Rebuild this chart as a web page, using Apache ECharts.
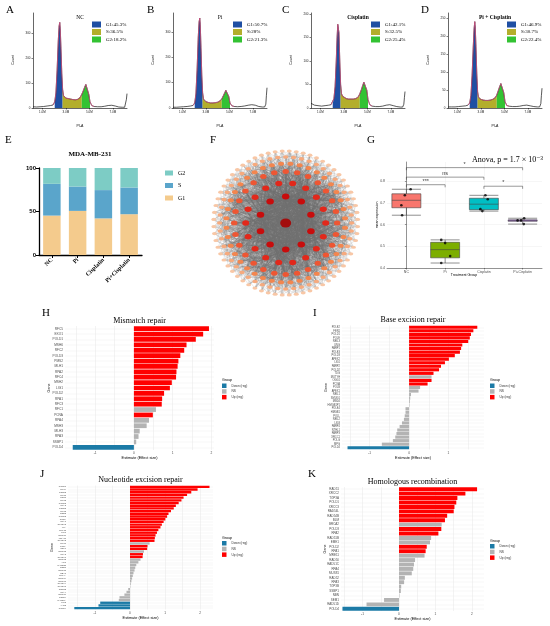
<!DOCTYPE html>
<html lang="en">
<head>
    <meta charset="UTF-8">
    <title>Cell cycle and DNA repair</title>
    <style>
        * { margin: 0; padding: 0; }
        body { background: #fff; }
        #chart { width: 550px; height: 626px; }
    </style>
    <script src="https://cdn.jsdelivr.net/npm/echarts@6/dist/echarts.min.js"></script>
</head>
<body>
<div id="chart"></div>
<script>
    // ---- A-D flow cytometry (PI-A in millions, counts) ----
    const flowX = [0.2, 0.5, 0.8, 1.1, 1.4, 1.7, 1.9,
        2.05, 2.15, 2.25, 2.35, 2.42, 2.48, 2.52, 2.58, 2.65, 2.72,
        2.8, 2.9, 3.0, 3.2, 3.4, 3.6, 3.8, 4.0, 4.2,
        4.35, 4.5, 4.6, 4.7, 4.78, 4.85, 4.95, 5.05,
        5.2, 5.4, 5.7, 6.0, 6.3, 6.6, 6.9, 7.2, 7.5, 7.8,
        8.0, 8.1, 8.15, 8.2]
    const ncCounts = [5, 4, 5, 6, 8, 10, 12,
        25, 60, 150, 270, 330, 345, 320, 240, 140, 75,
        50, 42, 40, 38, 36, 34, 33, 35, 42,
        55, 72, 85, 95, 98, 88, 55, 25,
        10, 6, 5, 5, 7, 10, 11, 8, 4, 3,
        3, 10, 35, 58]
    const piCounts = [3, 3, 4, 5, 6, 8, 10,
        20, 55, 150, 280, 340, 355, 330, 240, 130, 60,
        35, 28, 25, 22, 20, 20, 21, 23, 28,
        36, 50, 60, 70, 75, 68, 45, 20,
        9, 6, 5, 6, 8, 11, 13, 11, 6, 4,
        4, 15, 50, 80]
    const cisCounts = [10, 6, 5, 4, 5, 6, 7,
        10, 20, 45, 100, 150, 178, 182, 160, 100, 50,
        30, 25, 22, 20, 19, 19, 19, 20, 23,
        30, 40, 48, 55, 58, 54, 38, 18,
        7, 4, 3, 3, 4, 6, 7, 5, 3, 2,
        2, 8, 22, 35]
    const comboCounts = [3, 3, 3, 4, 5, 6, 8,
        14, 35, 90, 170, 220, 240, 225, 170, 95, 45,
        30, 26, 24, 22, 21, 21, 22, 24, 28,
        36, 50, 60, 68, 72, 65, 42, 18,
        7, 5, 4, 4, 5, 7, 8, 6, 4, 3,
        3, 12, 35, 55]
    const phaseNames = ['G1', 'S', 'G2']
    const phaseRanges = [[2.05, 2.72], [2.72, 4.35], [4.35, 5.05]]
    const ncPct = [45.3, 36.5, 18.2]
    const piPct = [50.7, 28, 21.3]
    const cisPct = [42.1, 32.5, 25.4]
    const comboPct = [46.9, 30.7, 22.4]
    const flowTicks = [1, 3, 5, 7]

    // ---- E stacked bars ----
    const treatGroups = ['NC', 'Pi', 'Cisplatin', 'Pi+Cisplatin']
    const g1Share = [45.3, 50.7, 42.1, 46.9]
    const sShare = [36.5, 28, 32.5, 30.7]
    const g2Share = [18.2, 21.3, 25.4, 22.4]

    // ---- F network (nodes per ring, hub in the middle) ----
    const ringSizes = [1, 10, 18, 28, 40, 52, 64]

    // ---- G mean expression ----
    const ncExpr = [0.764, 0.736, 0.690, 0.644]
    const piExpr = [0.530, 0.515, 0.455, 0.423]
    const cisExpr = [0.736, 0.718, 0.672, 0.663]
    const comboExpr = [0.630, 0.620, 0.620, 0.603]
    const ncJitter = [0.11, -0.04, -0.13, -0.11]
    const piJitter = [-0.10, 0.0, 0.13, -0.10]
    const cisJitter = [0.04, 0.10, -0.09, -0.04]
    const comboJitter = [0.04, -0.04, -0.13, 0.03]
    const exprTicks = [0.4, 0.5, 0.6, 0.7, 0.8]
    const sigPairs = [
        ['NC', 'Pi', '***', 0.785],
        ['NC', 'Cisplatin', 'ns', 0.820],
        ['NC', 'Pi+Cisplatin', '*', 0.864],
        ['Cisplatin', 'Pi+Cisplatin', '*', 0.778]
    ]

    // ---- H-K effect sizes (U = up, N = NS, D = down) ----
    const hGenes = ['RFC5', 'EXO1', 'POLD1', 'MSH6', 'RFC2', 'POLD3', 'PMS2', 'MLH1', 'RPA2', 'RFC4', 'MSH2', 'LIG1',
        'POLD2', 'RPA1', 'RFC3', 'RFC1', 'PCNA', 'RPA4', 'MSH3', 'MLH3', 'RPA3', 'SSBP1', 'POLD4']
    const hEst = [1.94, 1.79, 1.60, 1.36, 1.30, 1.20, 1.15, 1.13, 1.10, 1.09, 0.98, 0.93,
        0.78, 0.73, 0.72, 0.57, 0.49, 0.39, 0.33, 0.15, 0.12, 0.06, -1.58]
    const hGroup = 'UUUUUUUUUUUUUUUNUNNNNND'

    const iGenes = ['POLE2', 'FEN1', 'POLD1', 'POLE', 'NEIL3', 'UNG', 'PARP1', 'POLE3', 'POLD3', 'APEX2',
        'LIG1', 'PARP2', 'POLD2', 'TDG', 'MUTYH', 'OGG1', 'PCNA', 'POLB', 'APEX1', 'NEIL1',
        'SMUG1', 'MBD4', 'HMGB1P1', 'POLE4', 'HMGB1', 'POLL', 'NEIL2', 'LIG3', 'PARP4', 'NTHL1',
        'PARP3', 'XRCC1', 'POLG', 'MPG', 'POLD4']
    const iEst = [1.73, 1.63, 1.57, 1.54, 1.50, 1.35, 1.32, 1.29, 1.16, 1.01,
        0.91, 0.81, 0.76, 0.62, 0.57, 0.57, 0.47, 0.28, 0.24, 0.05,
        0.03, 0.02, 0.01, -0.09, -0.09, -0.11, -0.13, -0.18, -0.24, -0.30,
        -0.32, -0.35, -0.41, -0.69, -1.56]
    const iGroup = 'UUUUUUUUUUUUUUNUUNNNNNNNNNNNNNNNNND'

    const jGenes = ['POLD1', 'RFC4', 'POLE2', 'RFC5', 'POLE', 'RFC2', 'POLD3', 'RPA2', 'POLE3', 'RFC3',
        'DDB2', 'POLD2', 'CCNH', 'RPA1', 'GTF2H3', 'XPA', 'CUL4B', 'LIG1', 'ERCC8', 'MNAT1',
        'GTF2H2', 'RFC1', 'PCNA', 'CDK7', 'ERCC3', 'RPA3', 'GTF2H1', 'ERCC2', 'XPC', 'RAD23B',
        'DDB1', 'ERCC5', 'RBX1', 'CUL4A', 'ERCC4', 'ERCC1', 'GTF2H4', 'GTF2H5', 'CETN2', 'RPA4',
        'ERCC6', 'POLE4', 'RAD23A', 'LIG3', 'XAB2', 'POLD4']
    const jEst = [2.27, 1.93, 1.75, 1.63, 1.53, 1.47, 1.39, 1.31, 1.25, 1.17,
        1.10, 1.06, 1.01, 0.96, 0.91, 0.87, 0.81, 0.77, 0.73, 0.71,
        0.70, 0.56, 0.50, 0.49, 0.40, 0.37, 0.36, 0.30, 0.24, 0.18,
        0.15, 0.13, 0.10, 0.08, 0.06, 0.04, 0.02, 0.01, -0.05, -0.10,
        -0.16, -0.30, -0.32, -0.85, -0.90, -1.59]
    const jGroup = 'UUUUUUUUUUUUUUUUUUUUUNUUNUUNNNNNNNNNNNNNNNNDDD'

    const kGenes = ['RAD51', 'XRCC2', 'TOP3A', 'POLD1', 'XRCC3', 'RAD54L', 'RAD54B', 'BLM', 'BRCA2', 'POLD3',
        'RPA2', 'RAD51B', 'EME1', 'POLD2', 'RPA1', 'MRE11', 'RAD50', 'RAD51C', 'RPA4', 'MUS81',
        'RAD52', 'RPA3', 'TOP3B', 'SSBP1', 'NBN', 'SEM1', 'RAD51D', 'POLD4']
    const kEst = [2.14, 1.82, 1.60, 1.57, 1.52, 1.50, 1.32, 1.26, 1.17, 1.16,
        1.08, 0.88, 0.85, 0.76, 0.73, 0.70, 0.44, 0.41, 0.39, 0.35,
        0.16, 0.14, 0.06, 0.05, 0.01, -0.41, -0.89, -1.55]
    const kGroup = 'UUUUUUUUNUUNNUUNNNNNNNNNNNND'

    const effectTicks = [-1.5, -1, -0.5, 0, 0.5, 1, 1.5, 2]
    const effectLabels = [-1, 0, 1, 2]
    const groupCodes = ['D', 'N', 'U']
    const groupLabels = ['Down (reg)', 'NS', 'Up (reg)']

    // ---------------------------------------------------------------
    const SERIF = '"Liberation Serif", "DejaVu Serif", serif'
    const SANS = '"Liberation Sans", "DejaVu Sans", sans-serif'
    const phaseColors = ['#1f4fa3', '#b3ae2b', '#33c233']
    const shareColors = ['#f4cb8d', '#5aa5cb', '#7dccc5']
    const groupColors = ['#1b7aa6', '#b3b3b3', '#ff0000']
    const boxColors = ['#f8766d', '#7cae00', '#00bfc4', '#c77cff']

    let option = {
        animation: false,
        backgroundColor: '#fff',
        textStyle: {fontFamily: SANS},
        grid: [], xAxis: [], yAxis: [], series: [], legend: [], graphic: [],
        polar: [], angleAxis: [], radiusAxis: []
    }

    function add(list, item) {
        list.push(item)
        return list.length - 1
    }

    function text(x, y, s, size, o) {
        o = o || {}
        option.graphic.push({
            type: 'text', x: x, y: y, rotation: o.rot || 0, silent: true, z: 100,
            style: {
                text: s, fill: o.color || '#000',
                font: (o.weight || 'normal') + ' ' + size + 'px ' + (o.family || SERIF),
                align: o.align || 'center', textAlign: o.align || 'center',
                verticalAlign: 'middle', textVerticalAlign: 'middle'
            }
        })
    }

    // panel letters
    ;[['A', 6, 10], ['B', 147, 10], ['C', 282, 10], ['D', 421, 10], ['E', 5, 140], ['F', 210, 140],
        ['G', 367, 140], ['H', 42, 313], ['I', 313, 313], ['J', 40, 474], ['K', 308, 474]]
        .forEach(l => text(l[1], l[2], l[0], 11, {align: 'left'}))

    // ---- A-D ----
    function flowPanel(p) {
        let gi = add(option.grid, {left: p.left, top: 13, width: 94, height: 95})
        let xi = add(option.xAxis, {
            gridIndex: gi, type: 'value', min: 0.2, max: 8.2,
            axisLine: {show: true, onZero: false, lineStyle: {color: '#000', width: 0.6}},
            axisTick: {show: true, length: 1.5, customValues: flowTicks, lineStyle: {width: 0.5}},
            axisLabel: {customValues: flowTicks, fontSize: 3, margin: 2.5, color: '#222',
                formatter: v => v.toFixed(1) + 'M'},
            splitLine: {show: false}
        })
        let yi = add(option.yAxis, {
            gridIndex: gi, type: 'value', min: 0, max: p.ymax,
            axisLine: {show: true, lineStyle: {color: '#000', width: 0.6}},
            axisTick: {show: true, length: 1.5, customValues: p.ticks, lineStyle: {width: 0.5}},
            axisLabel: {customValues: p.ticks, fontSize: 3, margin: 2.5, color: '#222'},
            splitLine: {show: false}
        })
        let pts = flowX.map((x, i) => [x, p.counts[i]])
        let names = phaseNames.map((ph, k) => ph + ':' + p.pct[k] + '%')
        phaseRanges.forEach((r, k) => {
            option.series.push({
                type: 'line', name: names[k], xAxisIndex: xi, yAxisIndex: yi,
                data: pts.filter(d => d[0] >= r[0] && d[0] <= r[1]),
                symbol: 'none', lineStyle: {width: 0}, itemStyle: {color: phaseColors[k]},
                areaStyle: {color: phaseColors[k], opacity: 1}, silent: true, z: 2
            })
        })
        option.series.push({
            type: 'line', xAxisIndex: xi, yAxisIndex: yi, data: pts, symbol: 'none',
            lineStyle: {color: '#111', width: 0.7}, silent: true, z: 3
        })
        option.series.push({
            type: 'line', xAxisIndex: xi, yAxisIndex: yi,
            data: pts.filter(d => d[0] >= 1.9 && d[0] <= 5.4), symbol: 'none',
            lineStyle: {color: '#e2568c', width: 0.7}, silent: true, z: 4
        })
        option.legend.push({
            data: names.map((n, k) => ({name: n, itemStyle: {color: phaseColors[k]}})),
            left: p.legLeft, top: 21.5, orient: 'vertical', icon: 'rect',
            itemWidth: 9, itemHeight: 6, itemGap: 1.5, padding: 0, selectedMode: false,
            backgroundColor: '#fff',
            textStyle: {fontSize: 5, fontFamily: SERIF, color: '#000'}
        })
        text(p.left + 47, 18, p.title, 5.5, {weight: p.bold ? 'bold' : 'normal'})
        text(p.left - 20, 60, 'Count', 3.5, {rot: Math.PI / 2, family: SANS})
        text(p.left + 47, 126, 'PI-A', 3.5, {family: SANS})
    }

    flowPanel({left: 33, counts: ncCounts, pct: ncPct, ymax: 383, ticks: [0, 100, 200, 300], legLeft: 92, title: 'NC'})
    flowPanel({left: 173, counts: piCounts, pct: piPct, ymax: 375, ticks: [0, 100, 200, 300], legLeft: 233, title: 'Pi'})
    flowPanel({left: 311, counts: cisCounts, pct: cisPct, ymax: 202, ticks: [0, 50, 100, 150, 200], legLeft: 371, title: 'Cisplatin', bold: true})
    flowPanel({left: 448, counts: comboCounts, pct: comboPct, ymax: 264, ticks: [0, 50, 100, 150, 200, 250], legLeft: 507, title: 'Pi + Cisplatin', bold: true})

    // ---- E ----
    let eg = add(option.grid, {left: 39, top: 168, width: 103, height: 87})
    let ex = add(option.xAxis, {
        gridIndex: eg, type: 'category', data: treatGroups,
        axisLine: {lineStyle: {color: '#000', width: 1.3}},
        axisTick: {show: true, length: 3, alignWithLabel: true, lineStyle: {width: 1}},
        axisLabel: {rotate: 45, fontSize: 6, fontWeight: 'bold', fontFamily: SERIF, color: '#000', margin: 4}
    })
    let ey = add(option.yAxis, {
        gridIndex: eg, type: 'value', min: 0, max: 100, interval: 50,
        axisLine: {show: true, lineStyle: {color: '#000', width: 1.3}},
        axisTick: {show: true, length: 3, lineStyle: {width: 1}},
        axisLabel: {fontSize: 6, fontWeight: 'bold', color: '#000', margin: 3},
        splitLine: {show: false}
    })
    ;[['G1', g1Share], ['S', sShare], ['G2', g2Share]].forEach((s, k) => {
        option.series.push({
            type: 'bar', name: s[0], stack: 'share', xAxisIndex: ex, yAxisIndex: ey, data: s[1],
            barWidth: 17.5, itemStyle: {color: shareColors[k]}, silent: true
        })
    })
    option.legend.push({
        data: ['G2', 'S', 'G1'], left: 165, top: 170, orient: 'vertical', icon: 'rect',
        itemWidth: 8, itemHeight: 5, itemGap: 6.5, padding: 0, selectedMode: false,
        textStyle: {fontSize: 6, fontFamily: SERIF, color: '#000'}
    })
    text(90, 154, 'MDA-MB-231', 7, {weight: 'bold'})

    // ---- F network ----
    const ringRadius = [0, 26.5, 40, 51.5, 59.5, 66, 72]
    const ringColors = ['#a30e0e', '#c80c0c', '#e2281b', '#ee5633', '#f3864f', '#f6aa7e', '#f8c7a6']
    const ringSymbols = [[11, 9], [7.5, 6], [7, 5.5], [6.5, 5], [6, 4], [5.5, 3.6], [5, 3.2]]
    const ellipse = 'path://M0 5A10 5 0 1 1 20 5A10 5 0 1 1 0 5Z'
    option.polar.push({center: [285.7, 223], radius: 72})
    option.angleAxis.push({type: 'value', min: 0, max: 360, startAngle: 90, show: false})
    option.radiusAxis.push({type: 'value', min: 0, max: 72, show: false})
    let nodes = [], links = [], ringStart = [], acc = 0
    ringSizes.forEach((n, r) => {
        ringStart.push(acc)
        acc += n
        for (let i = 0; i < n; i++) {
            nodes.push({
                name: 'r' + r + '_' + i,
                value: [ringRadius[r], (i + (r % 2 ? 0 : 0.5)) * 360 / n],
                symbolSize: ringSymbols[r], itemStyle: {color: ringColors[r]}
            })
        }
    })
    for (let r = 1; r < ringSizes.length; r++) {
        for (let i = 0; i < ringSizes[r]; i++) {
            let id = ringStart[r] + i
            links.push({source: 0, target: id})
            if (r === 1) {
                for (let q = 2; q <= 4; q++)
                    for (let j = 0; j < ringSizes[q]; j++) links.push({source: id, target: ringStart[q] + j})
                for (let j = i + 1; j < ringSizes[1]; j++) links.push({source: id, target: ringStart[1] + j})
            } else {
                for (let t = 0; t < 9; t++) {
                    let q = 1 + ((i + t) % (r - 1))
                    let j = (i * 7 + t * 5) % ringSizes[q]
                    links.push({source: id, target: ringStart[q] + j})
                }
            }
        }
    }
    option.series.push({
        type: 'graph', coordinateSystem: 'polar', polarIndex: 0, data: nodes, links: links,
        symbol: ellipse, label: {show: false}, silent: true, z: 1,
        lineStyle: {color: '#707070', width: 0.35, opacity: 0.45, curveness: 0}
    })

    // ---- G boxplot ----
    function quant(a, p) {
        let s = a.slice().sort((x, y) => x - y)
        let h = (s.length - 1) * p, lo = Math.floor(h)
        return lo + 1 < s.length ? s[lo] + (h - lo) * (s[lo + 1] - s[lo]) : s[lo]
    }

    const exprSets = [ncExpr, piExpr, cisExpr, comboExpr]
    const jitterSets = [ncJitter, piJitter, cisJitter, comboJitter]
    let gg = add(option.grid, {left: 387, top: 162, width: 155, height: 106})
    let gx = add(option.xAxis, {
        gridIndex: gg, type: 'category', data: treatGroups,
        axisLine: {lineStyle: {color: '#333', width: 0.5}},
        axisTick: {show: true, length: 1.5, alignWithLabel: true, lineStyle: {width: 0.5}},
        axisLabel: {fontSize: 3.5, color: '#4d4d4d', margin: 2},
        splitLine: {show: true, alignWithLabel: true, lineStyle: {color: '#ececec', width: 0.5}}
    })
    let gxv = add(option.xAxis, {gridIndex: gg, type: 'value', min: -0.5, max: 3.5, show: false})
    let gy = add(option.yAxis, {
        gridIndex: gg, type: 'value', min: 0.4, max: 0.89,
        axisLine: {show: true, lineStyle: {color: '#333', width: 0.5}},
        axisTick: {show: true, length: 1.5, customValues: exprTicks, lineStyle: {width: 0.5}},
        axisLabel: {customValues: exprTicks, fontSize: 3.5, color: '#4d4d4d', margin: 2},
        splitLine: {show: true, customValues: exprTicks, lineStyle: {color: '#ececec', width: 0.5}}
    })
    option.series.push({
        type: 'boxplot', xAxisIndex: gx, yAxisIndex: gy, boxWidth: [29, 29], silent: true,
        data: exprSets.map((a, k) => ({
            value: [Math.min(...a), quant(a, 0.25), quant(a, 0.5), quant(a, 0.75), Math.max(...a)],
            itemStyle: {color: boxColors[k], borderColor: '#444', borderWidth: 0.6}
        }))
    })
    option.series.push({
        type: 'scatter', xAxisIndex: gxv, yAxisIndex: gy, symbolSize: 2.6, silent: true, z: 5,
        itemStyle: {color: '#000'},
        data: exprSets.flatMap((a, k) => a.map((v, i) => [k + jitterSets[k][i], v]))
    })
    sigPairs.forEach(s => {
        let a = treatGroups.indexOf(s[0]), b = treatGroups.indexOf(s[1]), y = s[3]
        option.series.push({
            type: 'line', xAxisIndex: gxv, yAxisIndex: gy, symbol: 'none', silent: true,
            lineStyle: {color: '#333', width: 0.5},
            data: [[a, y - 0.012], [a, y], [b, y], [b, y - 0.012]]
        })
        option.series.push({
            type: 'scatter', xAxisIndex: gxv, yAxisIndex: gy, symbolSize: 0.1, silent: true,
            data: [[(a + b) / 2, y]],
            label: {show: true, position: 'top', distance: 0.5, formatter: s[2], fontSize: 5.5, color: '#000'}
        })
    })
    text(472, 160, 'Anova, p = 1.7 × 10⁻³', 8, {align: 'left'})
    text(377, 215, 'mean expression', 3.5, {rot: Math.PI / 2, family: SANS})
    text(464, 275, 'Treatment Group', 3.5, {family: SANS})

    // ---- H-K diverging bars ----
    function effectPanel(c) {
        let gi = add(option.grid, {left: c.left, top: c.top, width: c.width, height: c.height})
        let ticks = effectTicks.filter(v => v >= c.min && v <= c.max)
        let labels = effectLabels.filter(v => v >= c.min && v <= c.max)
        let xi = add(option.xAxis, {
            gridIndex: gi, type: 'value', min: c.min, max: c.max,
            axisLine: {show: false},
            axisTick: {show: false, customValues: ticks},
            axisLabel: {customValues: labels, fontSize: 3.2, color: '#4d4d4d', margin: 2},
            splitLine: {show: true, customValues: ticks, lineStyle: {color: '#e6e6e6', width: 0.5}}
        })
        let yi = add(option.yAxis, {
            gridIndex: gi, type: 'category', data: c.genes, inverse: true,
            axisLine: {show: false}, axisTick: {show: false},
            axisLabel: {fontSize: c.fs, color: '#4d4d4d', margin: 2, interval: 0},
            splitLine: {show: true, alignWithLabel: true, interval: 0, lineStyle: {color: '#ececec', width: 0.4}}
        })
        groupCodes.forEach((g, k) => {
            option.series.push({
                type: 'bar', name: groupLabels[k], stack: 'eff' + gi, xAxisIndex: xi, yAxisIndex: yi,
                barCategoryGap: '12%', itemStyle: {color: groupColors[k]}, silent: true,
                data: c.est.map((v, i) => c.group[i] === g ? v : '-')
            })
        })
        option.legend.push({
            data: groupLabels, left: c.legLeft, top: c.legTop, orient: 'vertical', icon: 'rect',
            itemWidth: 4.5, itemHeight: 4.5, itemGap: 1.2, padding: 0, selectedMode: false,
            textStyle: {fontSize: 3.2, color: '#333'}
        })
        text(c.legLeft, c.legTop - 3.5, 'Group', 3.6, {align: 'left', family: SANS})
        text(c.left + c.width / 2, c.top - 5.5, c.title, 8)
        text(c.left - 16, c.top + c.height / 2, 'Gene', 3.6, {rot: Math.PI / 2, family: SANS})
        text(c.left + c.width / 2, c.top + c.height + 8, 'Estimate (Effect size)', 3.8, {family: SANS})
    }

    effectPanel({left: 65, top: 326, width: 149, height: 124, min: -1.78, max: 2.07, genes: hGenes, est: hEst,
        group: hGroup, fs: 3.2, legLeft: 222, legTop: 383.5, title: 'Mismatch repair'})
    effectPanel({left: 342, top: 325.5, width: 142, height: 124, min: -1.70, max: 1.90, genes: iGenes, est: iEst,
        group: iGroup, fs: 2.6, legLeft: 490, legTop: 383.5, title: 'Base excision repair'})
    effectPanel({left: 68, top: 485.5, width: 145, height: 124, min: -1.77, max: 2.37, genes: jGenes, est: jEst,
        group: jGroup, fs: 2.2, legLeft: 222, legTop: 541, title: 'Nucleotide excision repair'})
    effectPanel({left: 341, top: 487, width: 143, height: 124, min: -1.59, max: 2.33, genes: kGenes, est: kEst,
        group: kGroup, fs: 3.0, legLeft: 490, legTop: 544, title: 'Homologous recombination'})

    let chart = echarts.init(document.getElementById('chart'))
    chart.setOption(option, true)
</script>
</body>
</html>
